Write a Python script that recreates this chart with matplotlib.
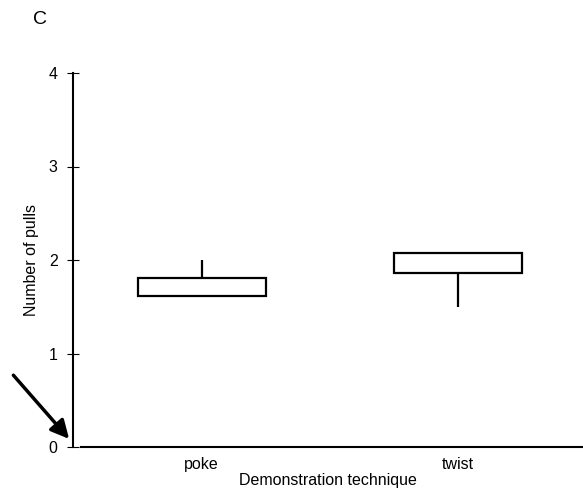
import matplotlib
matplotlib.use("Agg")
import matplotlib.pyplot as plt

plt.rcParams['font.family'] = ['Liberation Sans', 'DejaVu Sans']

categories = ["poke", "twist"]
q1 = [1.61, 1.86]
q3 = [1.81, 2.07]
whisker_lo = [1.81, 1.50]
whisker_hi = [2.00, 1.86]
yticks = [0, 1, 2, 3, 4]

fig = plt.figure(figsize=(5.83, 4.97), dpi=100)
ax = fig.add_axes([73/583, 1-447/497, 1-73/583, (447-73)/497])

x = list(range(len(categories)))
for xi, lo, hi, a, b in zip(x, whisker_lo, whisker_hi, q1, q3):
    ax.vlines(xi, lo, hi, color='black', lw=1.6, zorder=2)
    ax.bar(xi, b - a, bottom=a, width=0.5, facecolor='white',
           edgecolor='black', linewidth=1.6, zorder=3)

ax.set_xlim(-0.502, 1.49)
ax.set_ylim(0, 4)
ax.set_xticks(x)
ax.set_xticklabels(categories, fontsize=11.5)
ax.set_yticks(yticks)
ax.set_yticklabels([str(t) for t in yticks], fontsize=11.5)
ax.tick_params(axis='x', length=0, pad=7)
ax.tick_params(axis='y', direction='inout', length=8, width=0.8, pad=7)
for s in ['top', 'right']:
    ax.spines[s].set_visible(False)
ax.spines['left'].set_linewidth(1.5)
ax.spines['bottom'].set_linewidth(1.5)
ax.spines['bottom'].set_bounds(-0.47, 1.49)
ax.set_ylabel("Number of pulls", fontsize=11.5, labelpad=7)
ax.set_xlabel("Demonstration technique", fontsize=11.5, labelpad=1)

ax.annotate("", xy=(-0.51, 0.064), xytext=(-0.742, 0.79),
            arrowprops=dict(arrowstyle='-|>,head_length=1.1,head_width=0.55',
                            color='black', lw=2.5),
            annotation_clip=False)

fig.text(40/583, 1-20/497, "C", fontsize=14, ha='center', va='center')

fig.savefig("out.png", dpi=100)
